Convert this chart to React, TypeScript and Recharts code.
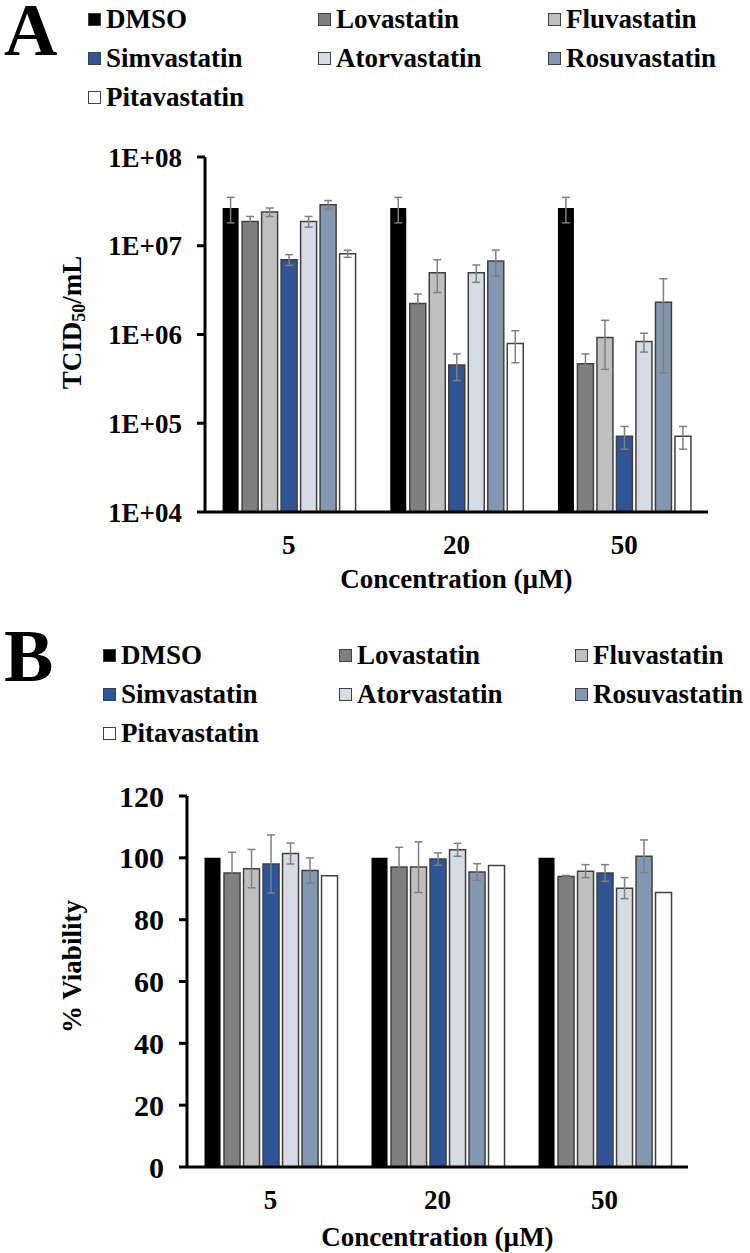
import React from 'react';
import { BarChart, Bar, XAxis, YAxis, ErrorBar, Legend, Label } from 'recharts';

const FONT = "'Liberation Serif', 'Times New Roman', serif";

const concentrations = ['5', '20', '50'];
const drugs = ['DMSO', 'Lovastatin', 'Fluvastatin', 'Simvastatin', 'Atorvastatin', 'Rosuvastatin', 'Pitavastatin'];
const fills = ['#000000', '#7f7f7f', '#bfbfbf', '#2f5597', '#d6dce5', '#8497b0', '#ffffff'];

// panel A: virus titer (TCID50/mL) at 5, 20, 50 µM
const dmsoTiter = [2.66e7, 2.66e7, 2.66e7];
const lovaTiter = [1.88e7, 2.23e6, 4.69e5];
const fluvaTiter = [2.4e7, 4.97e6, 9.25e5];
const simvaTiter = [6.97e6, 4.53e5, 7.15e4];
const atorvaTiter = [1.88e7, 4.97e6, 8.34e5];
const rosuvaTiter = [2.9e7, 6.73e6, 2.31e6];
const pitavaTiter = [8.15e6, 7.91e5, 7.15e4];

const dmsoTiterErr = [8.5e6, 8.5e6, 8.5e6];
const lovaTiterErr = [2.6e6, 6.3e5, 1.35e5];
const fluvaTiterErr = [2.6e6, 2.0e6, 5.2e5];
const simvaTiterErr = [9.7e5, 1.5e5, 2.05e4];
const atorvaTiterErr = [2.6e6, 1.1e6, 2.0e5];
const rosuvaTiterErr = [3.3e6, 2.2e6, 1.94e6];
const pitavaTiterErr = [7.5e5, 3.1e5, 2.05e4];

// panel B: % viability
const dmsoViab = [100, 100, 100];
const lovaViab = [95.1, 97.0, 94.0];
const fluvaViab = [96.5, 97.0, 95.7];
const simvaViab = [98.0, 99.6, 95.1];
const atorvaViab = [101.4, 102.6, 90.2];
const rosuvaViab = [95.9, 95.4, 100.5];
const pitavaViab = [94.2, 97.5, 88.8];

const lovaViabErr = [6.7, 6.4, 0.3];
const fluvaViabErr = [6.2, 8.2, 2.1];
const simvaViabErr = [9.4, 2.0, 2.7];
const atorvaViabErr = [3.4, 2.1, 3.4];
const rosuvaViabErr = [4.1, 2.7, 5.3];

const titerTicks = [1e4, 1e5, 1e6, 1e7, 1e8];
const viabTicks = [0, 20, 40, 60, 80, 100, 120];

const titers = [dmsoTiter, lovaTiter, fluvaTiter, simvaTiter, atorvaTiter, rosuvaTiter, pitavaTiter];
const titerErrs = [dmsoTiterErr, lovaTiterErr, fluvaTiterErr, simvaTiterErr, atorvaTiterErr, rosuvaTiterErr, pitavaTiterErr];
const viabs = [dmsoViab, lovaViab, fluvaViab, simvaViab, atorvaViab, rosuvaViab, pitavaViab];
const viabErrs = [null, lovaViabErr, fluvaViabErr, simvaViabErr, atorvaViabErr, rosuvaViabErr, null];

function buildRows(values: number[][], errs: (number[] | null)[]) {
  return concentrations.map((c, i) => {
    const row: Record<string, any> = { conc: c };
    drugs.forEach((d, j) => {
      row[d] = values[j][i];
      const e = errs[j];
      if (e) row[d + '_err'] = e[i];
    });
    return row;
  });
}

const titerRows = buildRows(titers, titerErrs);
const viabRows = buildRows(viabs, viabErrs);

const axisStyle = { stroke: '#000', strokeWidth: 3 };
const tickFont = { fill: '#000', fontSize: 27, fontWeight: 'bold', fontFamily: FONT };

const expFormat = (v: number) => '1E+' + String(Math.round(Math.log10(v))).padStart(2, '0');

const LegendGrid = ({ colWidth }: { colWidth: number }) => (
  <div
    style={{
      display: 'grid',
      gridTemplateColumns: `repeat(3, ${colWidth}px)`,
      fontFamily: FONT,
      fontWeight: 'bold',
      fontSize: 27,
      lineHeight: '39px',
      color: '#000',
    }}
  >
    {drugs.map((d, i) => (
      <div key={d} style={{ display: 'flex', alignItems: 'center', whiteSpace: 'nowrap' }}>
        <span
          style={{
            display: 'inline-block',
            width: 11,
            height: 11,
            background: fills[i],
            border: '1px solid #404040',
            marginRight: 5,
          }}
        />
        {d}
      </div>
    ))}
  </div>
);

const TiterLabel = (props: any) => {
  const vb = props.viewBox;
  const cx = vb.x + 72;
  const cy = vb.y + vb.height / 2 - 12;
  return (
    <text
      x={cx}
      y={cy}
      transform={`rotate(-90 ${cx} ${cy})`}
      textAnchor="middle"
      dominantBaseline="central"
      fontSize={27}
      fontWeight="bold"
      fontFamily={FONT}
      fill="#000"
    >
      TCID<tspan fontSize={18} dy={7}>50</tspan>
      <tspan dy={-7}>/mL</tspan>
    </text>
  );
};

const ViabLabel = (props: any) => {
  const vb = props.viewBox;
  const cx = vb.x + 72;
  const cy = vb.y + vb.height / 2 - 15;
  return (
    <text
      x={cx}
      y={cy}
      transform={`rotate(-90 ${cx} ${cy})`}
      textAnchor="middle"
      dominantBaseline="central"
      fontSize={27}
      fontWeight="bold"
      fontFamily={FONT}
      fill="#000"
    >
      % Viability
    </text>
  );
};

function series(errs: (number[] | null)[]) {
  return drugs.map((d, i) => (
    <Bar
      key={d}
      dataKey={d}
      name={d}
      fill={fills[i]}
      stroke={i === 0 ? 'none' : '#404040'}
      strokeWidth={1.5}
      isAnimationActive={false}
    >
      {errs[i] && (
        <ErrorBar dataKey={d + '_err'} direction="y" width={4} stroke="#7f7f7f" strokeWidth={1.5} />
      )}
    </Bar>
  ));
}

const panelLetter = (top: number): React.CSSProperties => ({
  position: 'absolute',
  left: 4,
  top,
  fontFamily: FONT,
  fontWeight: 'bold',
  fontSize: 74,
  lineHeight: '60px',
  height: 60,
  color: '#000',
});

export default function App() {
  return (
    <div style={{ position: 'absolute', left: 0, top: 0, width: 750, height: 1253, background: '#fff' }}>
      <div style={panelLetter(0)}>A</div>
      <div style={panelLetter(626)}>B</div>

      <div style={{ position: 'absolute', left: 0, top: 0 }}>
        <BarChart
          width={750}
          height={610}
          data={titerRows}
          margin={{ top: 157, right: 42, bottom: 0, left: 0 }}
          barCategoryGap="10.5%"
          barGap={3.5}
        >
          <XAxis
            xAxisId="edges"
            type="number"
            domain={[0, 3]}
            ticks={[0, 1, 2, 3]}
            allowDataOverflow
            axisLine={false}
            tickLine={axisStyle}
            tickSize={8}
            tick={false}
            height={0}
          />
          <XAxis
            dataKey="conc"
            axisLine={axisStyle}
            tickLine={false}
            tick={tickFont}
            tickSize={6}
            tickMargin={17}
            height={98}
            label={{ value: 'Concentration (µM)', position: 'insideBottom', offset: 22, fill: '#000', fontSize: 27, fontWeight: 'bold', fontFamily: FONT }}
          />
          <YAxis
            scale="log"
            domain={[1e4, 1e8]}
            allowDataOverflow
            ticks={titerTicks}
            tickFormatter={expFormat}
            width={205}
            axisLine={axisStyle}
            tickLine={axisStyle}
            tickSize={8}
            tickMargin={15}
            tick={tickFont}
            label={<Label content={TiterLabel} />}
          />
          <Legend
            layout="horizontal"
            align="center"
            verticalAlign="middle"
            wrapperStyle={{ left: 88, top: 0, width: 700 }}
            content={() => <LegendGrid colWidth={230} />}
          />
          {series(titerErrs)}
        </BarChart>
      </div>

      <div style={{ position: 'absolute', left: 0, top: 620 }}>
        <BarChart
          width={750}
          height={633}
          data={viabRows}
          margin={{ top: 176, right: 62, bottom: 0, left: 0 }}
          barCategoryGap="10.5%"
          barGap={3.5}
        >
          <XAxis
            xAxisId="edges"
            type="number"
            domain={[0, 3]}
            ticks={[0, 1, 2, 3]}
            allowDataOverflow
            axisLine={false}
            tickLine={axisStyle}
            tickSize={8}
            tick={false}
            height={0}
          />
          <XAxis
            dataKey="conc"
            axisLine={axisStyle}
            tickLine={false}
            tick={tickFont}
            tickSize={6}
            tickMargin={17}
            height={86}
            label={{ value: 'Concentration (µM)', position: 'insideBottom', offset: 7, fill: '#000', fontSize: 27, fontWeight: 'bold', fontFamily: FONT }}
          />
          <YAxis
            domain={[0, 120]}
            ticks={viabTicks}
            width={187}
            axisLine={axisStyle}
            tickLine={axisStyle}
            tickSize={8}
            tickMargin={15}
            tick={{ ...tickFont, fontSize: 30 }}
            label={<Label content={ViabLabel} />}
          />
          <Legend
            layout="horizontal"
            align="center"
            verticalAlign="middle"
            wrapperStyle={{ left: 103, top: 16, width: 700 }}
            content={() => <LegendGrid colWidth={236} />}
          />
          {series(viabErrs)}
        </BarChart>
      </div>
    </div>
  );
}
